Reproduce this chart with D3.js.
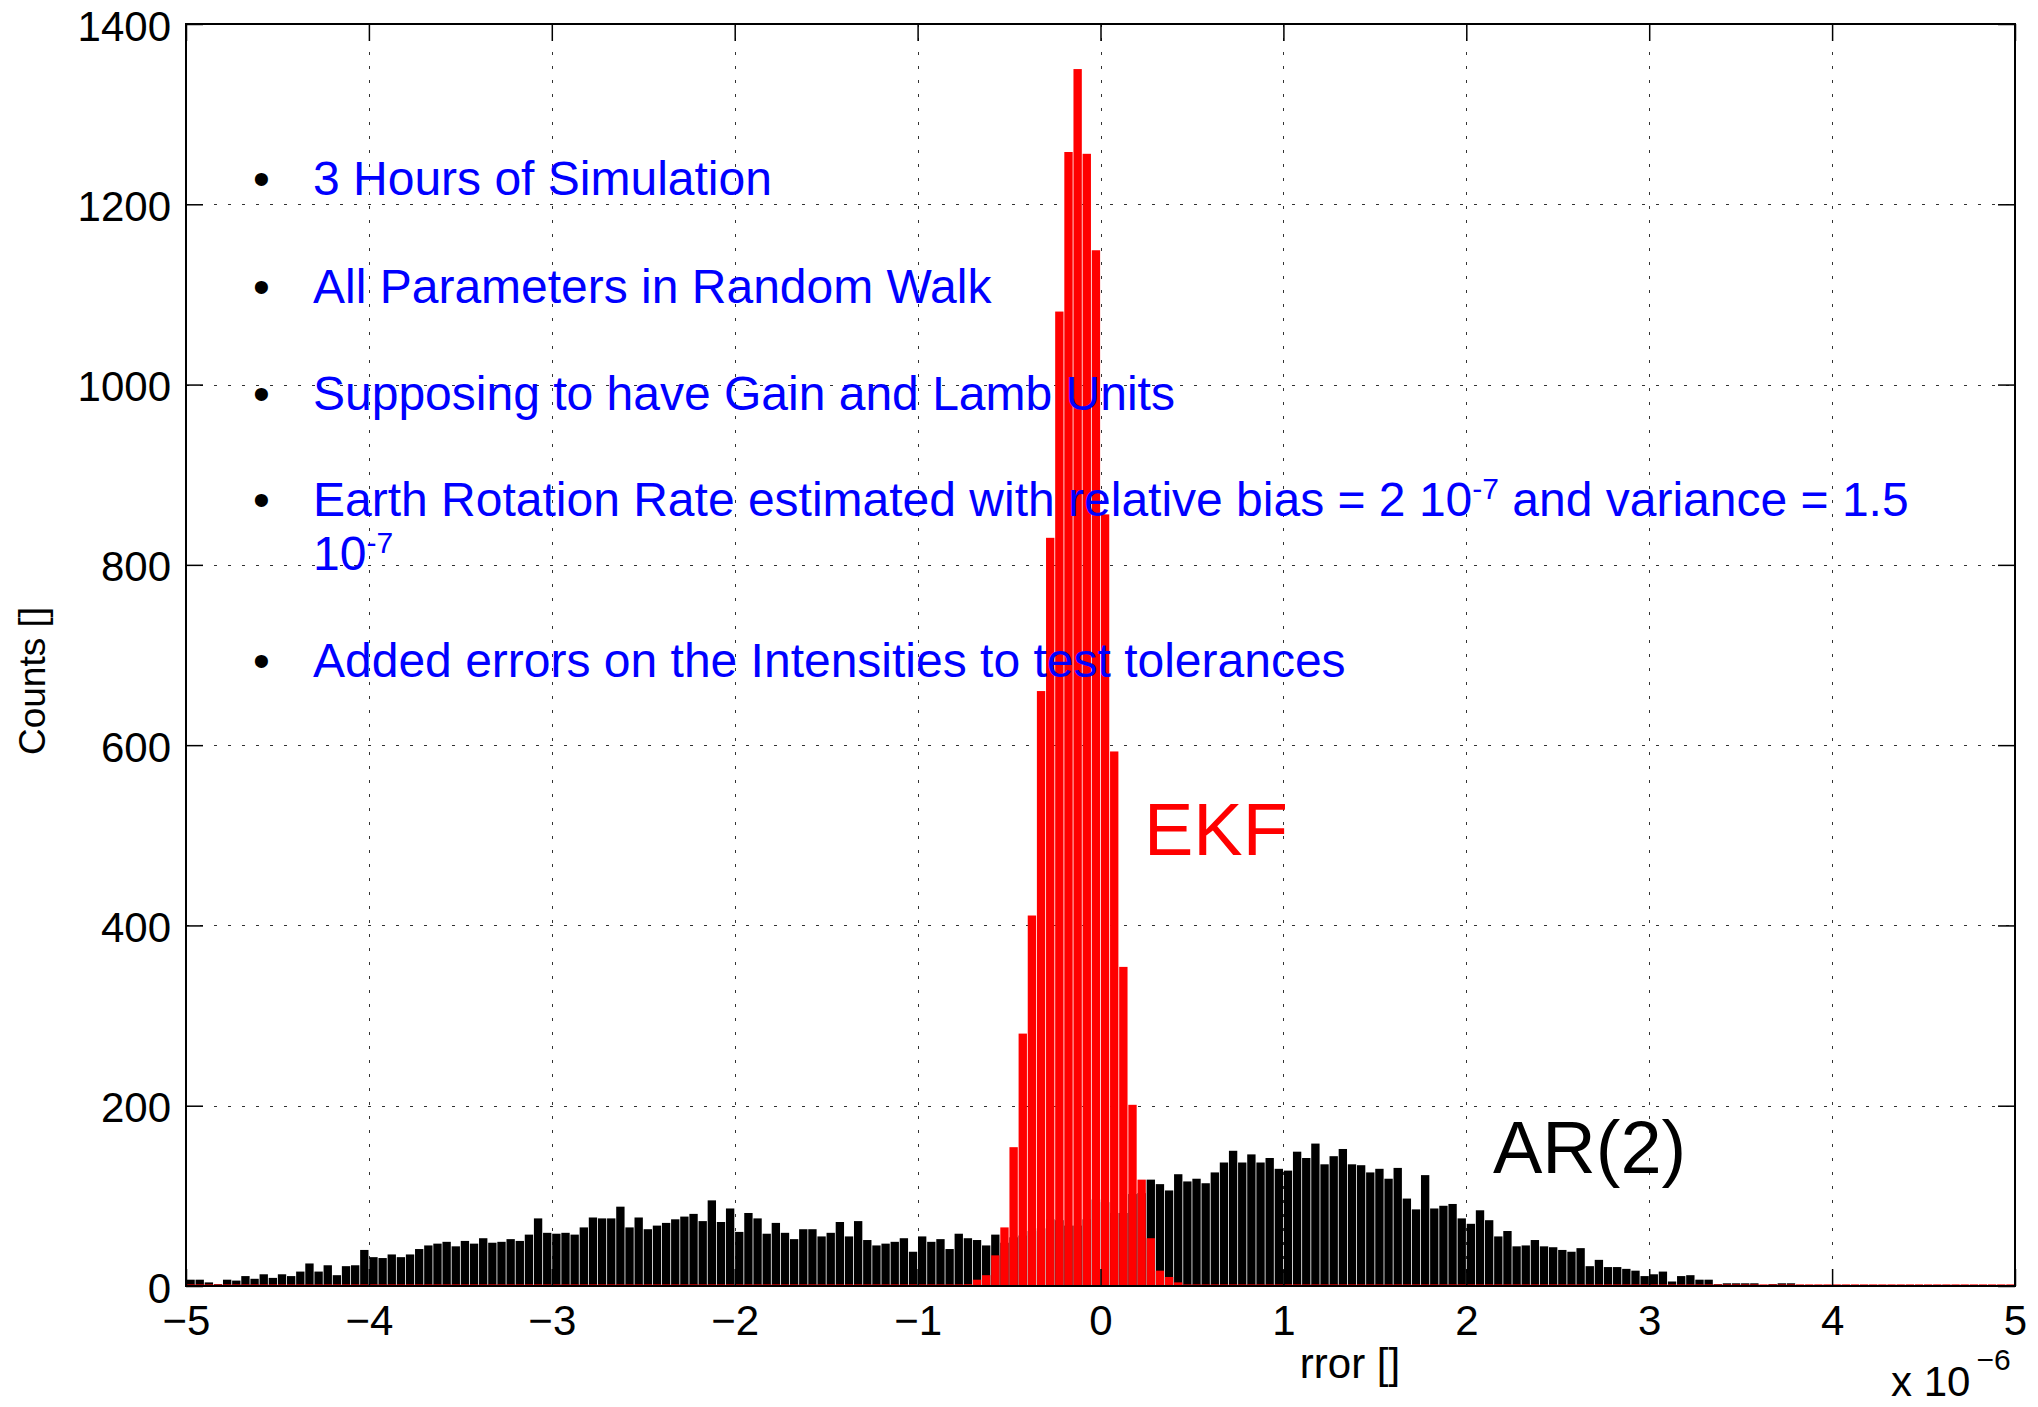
<!DOCTYPE html>
<html><head><meta charset="utf-8">
<script src="https://cdn.jsdelivr.net/npm/d3@7"></script>
<style>body{margin:0;background:#fff} svg{display:block}</style>
</head><body>
<script>
// ---------------- data ----------------
const binDomain = [-5, 5];      // x range of the histogram (x 10^-6)
const binCount = 200;           // number of bins (width 0.05)
const ar2Counts = [
  7,7,4,2,7,6,11,8,13,9, 13,11,16,25,16,23,12,22,23,40,
  32,31,35,32,35,41,45,47,49,44, 50,47,53,48,49,52,50,57,75,59,
  58,59,57,65,76,75,75,88,65,76, 63,67,70,74,77,80,72,95,71,86,
  60,81,75,58,70,59,52,63,63,55, 59,71,55,72,51,45,47,49,53,38,
  55,49,52,41,58,53,51,45,57,48, 54,56,61,64,74,73,67,67,74,96,
  93,81,81,102,103,118,113,106,124,116, 119,114,126,137,150,137,146,137,142,130,
  128,149,142,158,135,144,152,135,134,126, 130,119,131,97,85,123,86,89,91,75,
  69,84,73,55,61,44,45,51,44,43, 40,38,42,22,29,21,21,19,17,11,
  13,16,5,11,12,7,7,2,3,3, 3,3,1,2,3,3,0,0,0,0,
  1,1,1,1,1,0,1,0,0,0, 0,0,0,0,0,0,0,0,0,0
];
const ekfCounts = [
  0,0,0,0,0,0,0,0,0,0, 0,0,0,0,0,0,0,0,0,0,
  0,0,0,0,0,0,0,0,0,0, 0,0,0,0,0,0,0,0,0,0,
  0,0,1,1,0,0,0,0,0,0, 0,0,0,0,0,0,0,0,0,0,
  0,0,0,0,0,1,0,0,0,0, 0,1,0,0,0,0,0,0,0,1,
  0,0,0,0,1,2,7,12,34,65, 154,280,411,660,830,1081,1258,1350,1256,1149,
  856,593,354,201,118,53,17,10,4,0, 0,0,0,0,0,0,1,0,0,0,
  0,0,0,0,1,0,0,0,0,0, 0,0,0,0,0,0,0,0,0,0,
  0,0,0,0,0,1,0,0,0,0, 0,0,0,0,0,0,0,0,0,0,
  0,0,0,0,0,0,0,0,0,0, 0,0,0,0,0,0,0,0,0,0,
  0,0,0,0,0,0,0,1,0,0, 0,0,0,0,0,0,0,0,0,0
];
const xTicks = [-5,-4,-3,-2,-1,0,1,2,3,4,5];
const yTicks = [0,200,400,600,800,1000,1200,1400];
const bulletLines = [
  [[{t:"3 Hours of Simulation"}]],
  [[{t:"All Parameters in Random Walk"}]],
  [[{t:"Supposing to have Gain and Lamb Units"}]],
  [[{t:"Earth Rotation Rate estimated with relative bias = 2 10"},{t:"-7",sup:true},{t:" and variance = 1.5"}],
   [{t:"10"},{t:"-7",sup:true}]],
  [[{t:"Added errors on the Intensities to test tolerances"}]]
];
const seriesLabels = {ekf: "EKF", ar2: "AR(2)"};
const xLabel = "rror []";
const yLabel = "Counts []";
const xExponent = {base: "x 10", exp: "\u22126"};

// ---------------- layout ----------------
const W = 2038, H = 1407;
const L = 186, R = 2015, T = 24, B = 1286;
const FONT = "'Liberation Sans', Arial, Helvetica, sans-serif";

const svg = d3.select("body").append("svg").attr("width", W).attr("height", H)
  .style("font-family", FONT);

const x = d3.scaleLinear().domain(binDomain).range([L, R]);
const y = d3.scaleLinear().domain([0, 1400]).range([B, T]);
const binW = (binDomain[1] - binDomain[0]) / binCount;
const binStarts = d3.range(binCount).map(i => binDomain[0] + i * binW);

// grid
const grid = svg.append("g").attr("stroke", "#333").attr("stroke-width", 1)
  .attr("stroke-dasharray", "3,11");
grid.selectAll("line.gx").data(xTicks.slice(1, -1)).join("line")
  .attr("x1", d => Math.round(x(d)) + 0.5).attr("x2", d => Math.round(x(d)) + 0.5)
  .attr("y1", T).attr("y2", B);
grid.selectAll("line.gy").data(yTicks.slice(1, -1)).join("line")
  .attr("y1", d => Math.round(y(d)) + 0.5).attr("y2", d => Math.round(y(d)) + 0.5)
  .attr("x1", L).attr("x2", R);

// bars
function drawBars(counts, color, minH) {
  svg.append("g").selectAll("rect").data(counts).join("rect")
    .attr("x", (d, i) => x(binStarts[i]) + 0.4)
    .attr("width", (d, i) => x(binStarts[i] + binW) - x(binStarts[i]) - 0.8)
    .attr("y", d => B - Math.max(B - y(d), minH))
    .attr("height", d => Math.max(B - y(d), minH))
    .attr("fill", color);
}
drawBars(ar2Counts, "#000", 0);
drawBars(ekfCounts, "#ff0000", 1.6);

// axes (ticks inside, MATLAB style)
const fmtX = d => d < 0 ? "\u2212" + Math.abs(d) : String(d);
const fmtY = d => String(d);
const ax = svg.append("g").attr("transform", `translate(0,${B})`)
  .call(d3.axisBottom(x).tickValues(xTicks).tickFormat(fmtX).tickSizeInner(-17).tickSizeOuter(0).tickPadding(0));
ax.selectAll("text").attr("y", 49).attr("dy", 0);
const ay = svg.append("g").attr("transform", `translate(${L},0)`)
  .call(d3.axisLeft(y).tickValues(yTicks).tickFormat(fmtY).tickSizeInner(-17).tickSizeOuter(0).tickPadding(15));
ay.selectAll("text").attr("dy", 16);
svg.append("g").attr("transform", `translate(0,${T})`)
  .call(d3.axisTop(x).tickValues(xTicks).tickFormat("").tickSizeInner(-17).tickSizeOuter(0));
svg.append("g").attr("transform", `translate(${R},0)`)
  .call(d3.axisRight(y).tickValues(yTicks).tickFormat("").tickSizeInner(-17).tickSizeOuter(0));
svg.selectAll(".domain").remove();
svg.selectAll(".tick line").attr("stroke", "#000").attr("stroke-width", 1.5);
svg.selectAll(".tick text").attr("font-size", 42).attr("font-family", FONT).attr("fill", "#000");
svg.append("rect").attr("x", L).attr("y", T).attr("width", R - L).attr("height", B - T)
  .attr("fill", "none").attr("stroke", "#000").attr("stroke-width", 2);

// axis labels
svg.append("text").attr("x", 1350).attr("y", 1378).attr("text-anchor", "middle")
  .attr("font-size", 42).text(xLabel);
svg.append("text").attr("transform", "translate(45,681) rotate(-90)").attr("text-anchor", "middle")
  .attr("font-size", 37).text(yLabel);
const ex = svg.append("text").attr("x", 1891).attr("y", 1396).attr("font-size", 42);
ex.append("tspan").text(xExponent.base);
ex.append("tspan").attr("dx", 6).attr("dy", -26).attr("font-size", 30).text(xExponent.exp);

// annotation text
const lineY = [195, 302.5, 410, 516, 677];
const blk = svg.append("g").attr("font-size", 48);
bulletLines.forEach((lines, k) => {
  blk.append("text").attr("x", 253).attr("y", lineY[k]).attr("fill", "#000").text("\u2022");
  lines.forEach((segs, j) => {
    const t = blk.append("text").attr("x", 313).attr("y", lineY[k] + j * 54).attr("fill", "#0000ff");
    let raised = false;
    segs.forEach(s => {
      const sp = t.append("tspan").text(s.t);
      if (s.sup && !raised) { sp.attr("dy", -17).attr("font-size", 30); raised = true; }
      else if (!s.sup && raised) { sp.attr("dy", 17); raised = false; }
    });
  });
});

// series labels
svg.append("text").attr("x", 1144).attr("y", 855).attr("font-size", 74).attr("fill", "#ff0000").text(seriesLabels.ekf);
svg.append("text").attr("x", 1493).attr("y", 1173).attr("font-size", 74).attr("fill", "#000").text(seriesLabels.ar2);
</script>
</body></html>
